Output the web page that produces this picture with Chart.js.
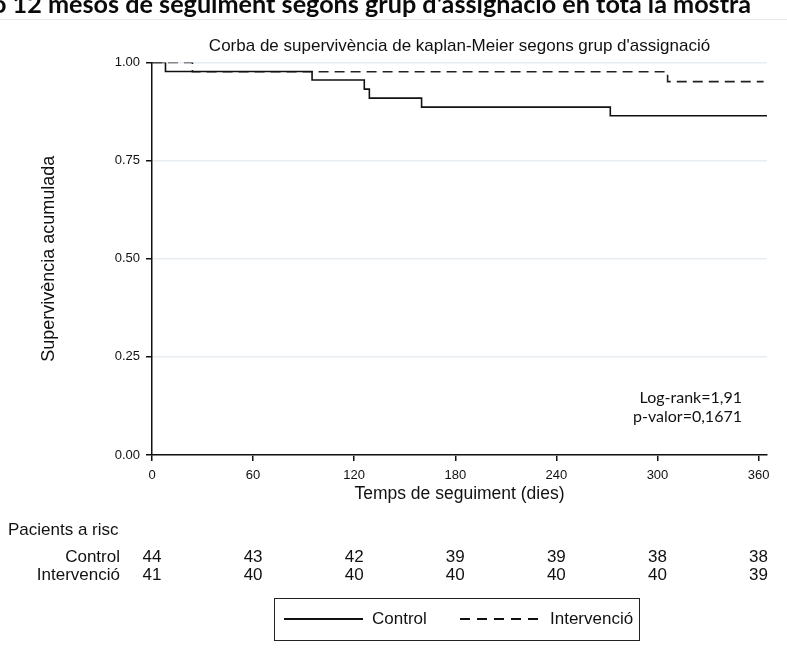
<!DOCTYPE html>
<html><head><meta charset="utf-8">
<script src="https://cdn.jsdelivr.net/npm/chart.js@4.4.1/dist/chart.umd.min.js"></script>
<style>
html,body{margin:0;padding:0;background:#fff;}
#wrap{position:relative;width:787px;height:663px;overflow:hidden;font-family:'Liberation Sans',Arial,sans-serif;color:#111;}
#c{position:absolute;left:0;top:0;}
.heading{position:absolute;left:-8px;top:-12px;font-family:Lato,'Open Sans',sans-serif;font-weight:bold;font-size:25.2px;line-height:30px;white-space:nowrap;color:#0a0a0a;}
.hr{position:absolute;left:0;top:19px;width:787px;height:1px;background:#e4e8ec;}
.stat{position:absolute;right:45px;font-family:Lato,'Open Sans',sans-serif;font-size:16px;line-height:19px;text-align:right;white-space:nowrap;color:#111;}
.rt{position:absolute;font-size:17px;line-height:19px;white-space:nowrap;color:#111;}
.num{transform:translateX(-50%);}
.lab{text-align:right;}
#legend{position:absolute;left:274px;top:598px;width:366px;height:43px;border:1.5px solid #222;box-sizing:border-box;}
.sw{position:absolute;top:19px;height:1.5px;background:#111;}
.sw.dash{background:repeating-linear-gradient(to right,#111 0 10px,transparent 10px 17px);}
.lt{position:absolute;top:10px;font-size:17px;line-height:19px;white-space:nowrap;color:#111;}
</style></head>
<body>
<div id="wrap">
<canvas id="c" width="787" height="663"></canvas>
<div class="heading">ó 12 mesos de seguiment segons grup d'assignació en tota la mostra</div>
<div class="hr"></div>
<div class="stat" style="top:387px">Log-rank=1,91</div>
<div class="stat" style="top:406px">p-valor=0,1671</div>
<div id="table"></div>
<div id="legend"></div>
</div>
<script>
const controlDays = [0, 8, 95, 126, 129, 160, 272, 365];
const controlSurv = [1.000, 0.977, 0.955, 0.932, 0.909, 0.886, 0.864, 0.864];
const intervDays  = [0, 24, 306, 363];
const intervSurv  = [1.000, 0.976, 0.951, 0.951];
const riskDays    = [0, 60, 120, 180, 240, 300, 360];
const riskControl = [44, 43, 42, 39, 39, 38, 38];
const riskInterv  = [41, 40, 40, 40, 40, 40, 39];
const yTickValues = [0, 0.25, 0.5, 0.75, 1];
const xTickValues = [0, 60, 120, 180, 240, 300, 360];
const seriesLabels = ['Control', 'Intervenció'];

const tickFont = {family: "'Liberation Sans',Arial", size: 13};

const chart = new Chart(document.getElementById('c'), {
  type: 'line',
  data: {
    datasets: [
      {label: seriesLabels[0], data: controlDays.map((d,i)=>({x:d, y:controlSurv[i]})),
       stepped: true, borderColor: '#111', borderWidth: 1.6, pointRadius: 0, fill: false},
      {label: seriesLabels[1], data: intervDays.map((d,i)=>({x:d, y:intervSurv[i]})),
       stepped: true, borderColor: '#222', borderWidth: 1.6, borderDash: [10,6], pointRadius: 0, fill: false}
    ]
  },
  options: {
    responsive: false, animation: false,
    events: [],
    layout: {padding: {left: 0, right: 20, top: 0, bottom: 158}},
    plugins: {
      legend: {display: false},
      tooltip: {enabled: false},
      title: {display: true, fullSize: false, text: "Corba de supervivència de kaplan-Meier segons grup d'assignació",
              color: '#111', font: {family: "'Liberation Sans',Arial", size: 17, weight: 'normal'},
              padding: {top: 36, bottom: 6}}
    },
    scales: {
      x: {
        type: 'linear', min: 0, max: 365,
        afterBuildTicks: s => { s.ticks = xTickValues.map(v => ({value: v})); },
        afterFit: s => { s.height = 50; },
        ticks: {color: '#111', font: tickFont, padding: 7, maxRotation: 0, callback: v => String(v)},
        grid: {drawOnChartArea: false, tickColor: '#111', tickLength: 6, lineWidth: 1.5},
        border: {color: '#111', width: 1.5},
        title: {display: true, text: 'Temps de seguiment (dies)', color: '#111',
                font: {family: "'Liberation Sans',Arial", size: 17.5}, padding: {top: 0, bottom: 0}}
      },
      y: {
        min: 0, max: 1,
        afterBuildTicks: s => { s.ticks = yTickValues.map(v => ({value: v})); },
        afterFit: s => { s.width = 152; },
        ticks: {color: '#111', font: tickFont, padding: 6, callback: v => Number(v).toFixed(2)},
        grid: {color: '#e8edf2', tickColor: '#111', tickLength: 6, lineWidth: 1.5},
        border: {color: '#111', width: 1.5},
        title: {display: true, text: 'Supervivència acumulada', color: '#111',
                font: {family: "'Liberation Sans',Arial", size: 18}, padding: {top: 38, bottom: 0}}
      }
    }
  }
});

// risk table positioned with the chart's x scale
const xs = chart.scales.x;
const table = document.getElementById('table');
function addText(txt, cls, left, top) {
  const d = document.createElement('div');
  d.className = 'rt ' + cls; d.textContent = txt;
  d.style.left = left + 'px'; d.style.top = top + 'px';
  table.appendChild(d); return d;
}
addText('Pacients a risc', '', 8, 520);
const rowTops = [547, 565];
const rowData = [riskControl, riskInterv];
seriesLabels.forEach((lab, r) => {
  const d = addText(lab, 'lab', 0, rowTops[r]);
  d.style.width = '120px';
  riskDays.forEach((day, i) => addText(String(rowData[r][i]), 'num', xs.getPixelForValue(day), rowTops[r]));
});

// legend from datasets
const legend = document.getElementById('legend');
const swPos = [[9, 79], [185, 80]];
const txPos = [97, 275];
chart.data.datasets.forEach((ds, i) => {
  const sw = document.createElement('div');
  sw.className = 'sw' + (ds.borderDash ? ' dash' : '');
  sw.style.left = swPos[i][0] + 'px'; sw.style.width = swPos[i][1] + 'px';
  legend.appendChild(sw);
  const t = document.createElement('div');
  t.className = 'lt'; t.textContent = ds.label; t.style.left = txPos[i] + 'px';
  legend.appendChild(t);
});
</script>
</body></html>
